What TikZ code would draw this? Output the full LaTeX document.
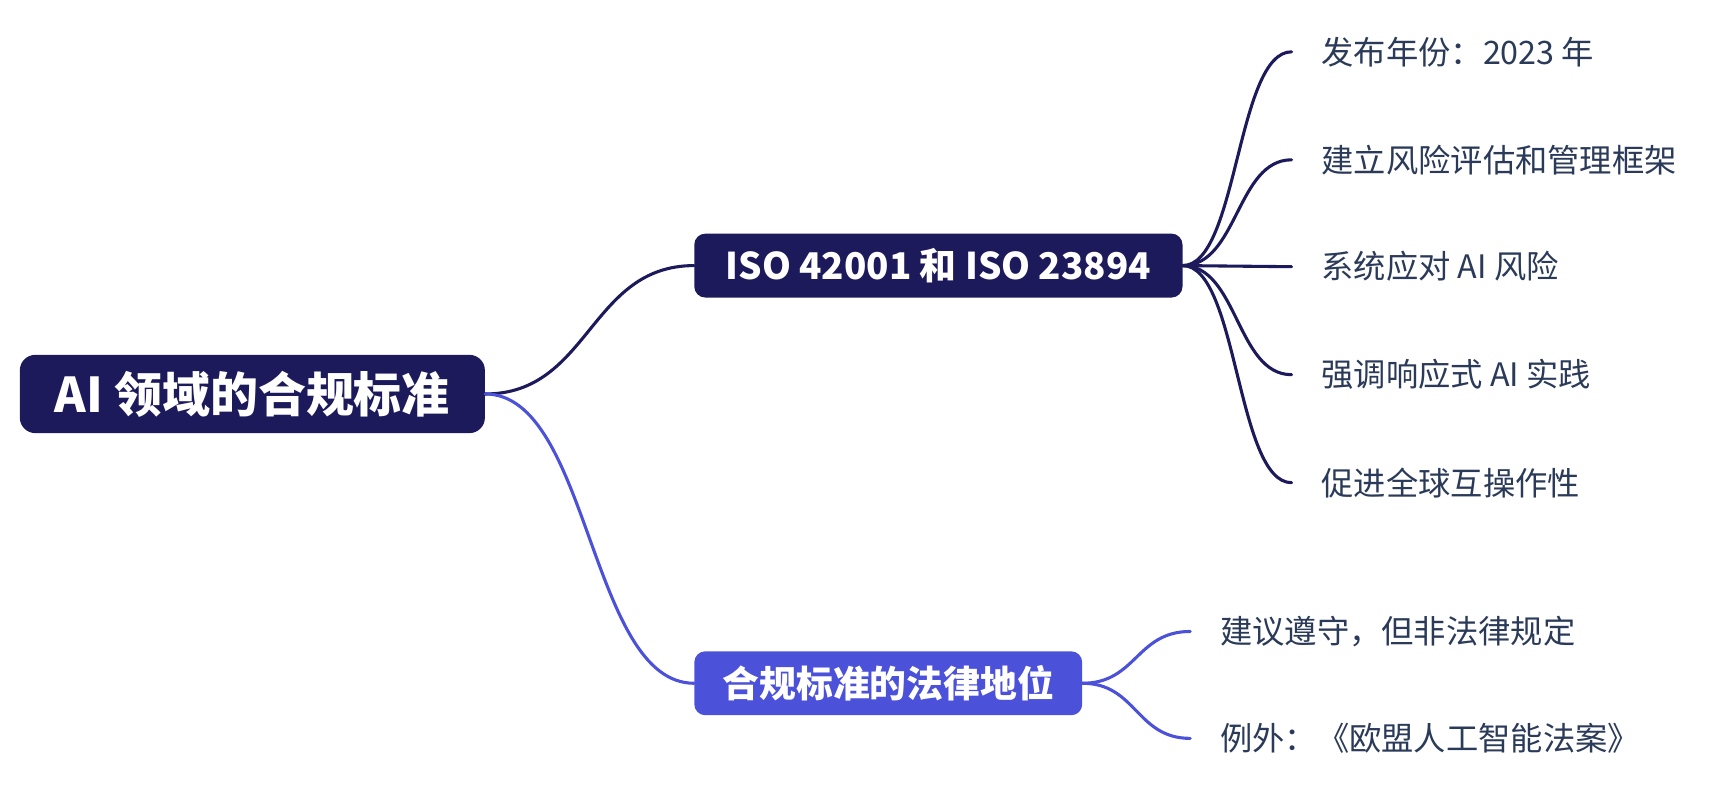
\documentclass[tikz,border=0pt]{standalone}
\usepackage{fontspec}
\setmainfont{Noto Sans CJK SC}
\definecolor{navy}{HTML}{1C1A5B}
\definecolor{violet}{HTML}{4B51D9}
\definecolor{leaftext}{HTML}{2A3A58}
\begin{document}
\begin{tikzpicture}[x=1pt,y=-1pt,
  rootbox/.style={draw=none,fill=navy,rounded corners=14pt,minimum width=422pt,minimum height=71pt,text=white,font=\fontsize{43.5}{50}\selectfont\bfseries,inner sep=0pt},
  topicbox/.style={draw=none,rounded corners=10pt,minimum height=58pt,text=white,font=\fontsize{33.4}{38}\selectfont\bfseries,inner sep=0pt},
  leaf/.style={anchor=west,inner xsep=27pt,inner ysep=2pt,text=leaftext,font=\fontsize{29.3}{34}\selectfont},
  link/.style={line width=2.8pt,line cap=round}
]
\useasboundingbox (0,0) rectangle (1568,715);
\node[rootbox] (root) at (229,357.5) {AI 领域的合规标准};
\node[topicbox,fill=navy,minimum width=443pt] (iso) at (851.5,241) {ISO 42001 和 ISO 23894};
\node[topicbox,fill=violet,minimum width=352pt] (legal) at (806,620) {合规标准的法律地位};

\node[leaf] (a1) at (1172,47) {发布年份：2023 年};
\node[leaf] (a2) at (1172,145) {建立风险评估和管理框架};
\node[leaf] (a3) at (1172,242) {系统应对 AI 风险};
\node[leaf] (a4) at (1172,340) {强调响应式 AI 实践};
\node[leaf] (a5) at (1172,438) {促进全球互操作性};

\node[leaf] (b1) at (1080,573) {建议遵守，但非法律规定};
\node[leaf] (b2) at (1080,670) {例外：《欧盟人工智能法案》};

\draw[link,navy] (root.east) .. controls +(95,0) and +(-95,0) .. (iso.west);
\draw[link,violet] (root.east) .. controls +(95,0) and +(-95,0) .. (legal.west);
\foreach \n in {a1,a2,a3,a4,a5}{
  \draw[link,navy] (iso.east) .. controls +(50,0) and +(-50,0) .. (\n.west);
}
\foreach \n in {b1,b2}{
  \draw[link,violet] (legal.east) .. controls +(49,0) and +(-49,0) .. (\n.west);
}
\end{tikzpicture}
\end{document}
